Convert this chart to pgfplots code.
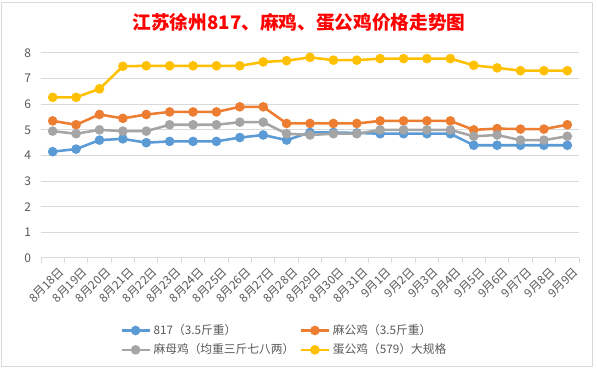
\documentclass[border=0pt]{standalone}
\usepackage{fontspec}
\setmainfont{Noto Sans CJK SC}
\usepackage{pgfplots}
\usepackage{pgfplotstable}
\pgfplotsset{compat=1.18}
\definecolor{cblue}{HTML}{5B9BD5}
\definecolor{corange}{HTML}{ED7D31}
\definecolor{cgray}{HTML}{A5A5A5}
\definecolor{cyellow}{HTML}{FFC000}
\definecolor{gridc}{HTML}{D9D9D9}
\definecolor{txt}{HTML}{595959}
\pgfplotstableread{
x a b c d
0 4.15 5.35 4.95 6.27
1 4.25 5.20 4.85 6.27
2 4.60 5.60 5.00 6.60
3 4.65 5.45 4.95 7.48
4 4.50 5.60 4.95 7.50
5 4.55 5.70 5.20 7.50
6 4.55 5.70 5.20 7.50
7 4.55 5.70 5.20 7.50
8 4.70 5.90 5.30 7.50
9 4.80 5.90 5.30 7.65
10 4.60 5.25 4.85 7.70
11 4.90 5.25 4.80 7.83
12 4.90 5.25 4.85 7.72
13 4.88 5.25 4.85 7.72
14 4.85 5.35 5.00 7.78
15 4.85 5.35 5.00 7.78
16 4.85 5.35 5.00 7.78
17 4.85 5.35 5.00 7.78
18 4.40 5.00 4.75 7.52
19 4.40 5.05 4.80 7.42
20 4.40 5.03 4.60 7.31
21 4.40 5.03 4.60 7.31
22 4.40 5.20 4.75 7.31
}\prices
\begin{document}
\begin{tikzpicture}
\useasboundingbox (0pt,0pt) rectangle (447.75pt,277.5pt);
\fill[white] (0pt,0pt) rectangle (447.75pt,277.5pt);
\draw[gridc, line width=0.75pt] (1pt,2.5pt) rectangle (444pt,275.5pt);
\node[text=red, font=\bfseries\fontsize{14}{16}\selectfont] at (224.25pt,261pt) {江苏徐州817、麻鸡、蛋公鸡价格走势图};
\begin{axis}[
  at={(30.75pt,84pt)}, anchor=south west,
  scale only axis, width=403.5pt, height=153.75pt,
  xmin=-0.5, xmax=22.5, ymin=0, ymax=8,
  ytick={0,...,8},
  xtick={0,...,22},
  xticklabels={8月18日,8月19日,8月20日,8月21日,8月22日,8月23日,8月24日,8月25日,8月26日,8月27日,8月28日,8月29日,8月30日,8月31日,9月1日,9月2日,9月3日,9月4日,9月5日,9月6日,9月7日,9月8日,9月9日},
  minor xtick={-0.5,0.5,...,22.5},
  axis lines=left,
  axis line style={-},
  x axis line style={gridc, line width=0.75pt},
  y axis line style={draw=none},
  major tick length=0pt,
  minor tick length=3.75pt,
  tick align=outside,
  minor tick style={gridc, line width=0.75pt},
  ymajorgrids,
  grid style={gridc, line width=0.75pt},
  /pgf/number format/assume math mode=true,
  yticklabel style={text=txt, font=\fontsize{9}{10}\selectfont, xshift=-4pt},
  xticklabel style={rotate=45, anchor=east, text=txt, font=\fontsize{8.8}{10}\selectfont, yshift=-11pt, xshift=2pt},
  legend columns=2,
  legend cell align=left,
  legend style={at={(0.147,-0.31)}, anchor=north west, draw=none, fill=none,
    font=\fontsize{8.8}{10}\selectfont, text=txt, inner sep=0pt,
    /tikz/every even column/.append style={column sep=2pt},
    row sep=1.5pt},
  legend image code/.code={\draw[mark repeat=2,mark phase=2,#1] plot coordinates {(0pt,0pt)(10.5pt,0pt)(21pt,0pt)};},
  every axis plot/.append style={line width=1.9pt, mark=*, mark size=2.6pt},
]
\addplot[cblue, mark options={fill=cblue}] table[x=x,y=a] {\prices};
\addlegendentry{817（3.5斤重）}
\addplot[corange, mark options={fill=corange}] table[x=x,y=b] {\prices};
\addlegendentry{麻公鸡（3.5斤重）}
\addplot[cgray, mark options={fill=cgray}] table[x=x,y=c] {\prices};
\addlegendentry{麻母鸡（均重三斤七八两）}
\addplot[cyellow, mark options={fill=cyellow}] table[x=x,y=d] {\prices};
\addlegendentry{蛋公鸡（579）大规格}
\end{axis}
\end{tikzpicture}
\end{document}
